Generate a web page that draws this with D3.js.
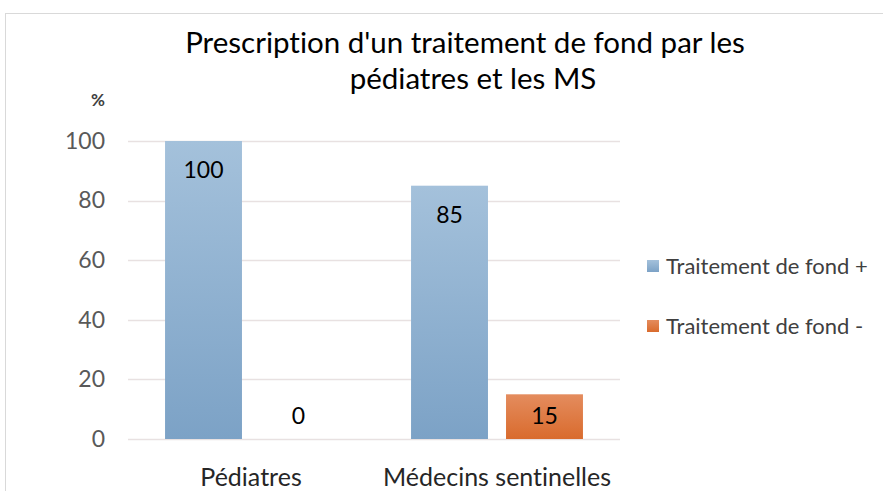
<!DOCTYPE html>
<html>
<head>
<meta charset="utf-8">
<script src="https://cdn.jsdelivr.net/npm/d3@7"></script>
<style>
  body { margin: 0; background: #fff; }
  text { font-family: Lato, "Open Sans", sans-serif; font-variant-ligatures: none; }
</style>
</head>
<body>
<svg id="chart" width="883" height="491"></svg>
<script>
var categories = ["Pédiatres", "Médecins sentinelles"];
var seriesNames = ["Traitement de fond +", "Traitement de fond -"];
var plusValues = [100, 85];
var minusValues = [0, 15];
var yTicks = [0, 20, 40, 60, 80, 100];
var titleLines = ["Prescription d'un traitement de fond par les", "pédiatres et les MS"];

var colors = {
    "Traitement de fond +": ["#a4c1db", "#7ca2c6"],
    "Traitement de fond -": ["#e48c5e", "#d96b2d"]
};

var data = categories.map(function(c, i) {
    return {category: c, values: [
        {series: seriesNames[0], value: plusValues[i]},
        {series: seriesNames[1], value: minusValues[i]}
    ]};
});

var svg = d3.select('#chart');

// outer chart frame
svg.append('rect')
    .attr('x', 5.5).attr('y', 13.5)
    .attr('width', 890).attr('height', 490)
    .attr('fill', 'none')
    .attr('stroke', '#d9d9d9');

var defs = svg.append('defs');
seriesNames.forEach(function(s, i) {
    var g = defs.append('linearGradient')
        .attr('id', 'grad' + i)
        .attr('x1', 0).attr('y1', 0).attr('x2', 0).attr('y2', 1);
    g.append('stop').attr('offset', '0%').attr('stop-color', colors[s][0]);
    g.append('stop').attr('offset', '100%').attr('stop-color', colors[s][1]);
});

var plot = {l: 128, r: 620, t: 141, b: 439};

var x0 = d3.scaleBand()
    .domain(categories)
    .range([plot.l, plot.r])
    .padding(0);

var x1 = d3.scaleBand()
    .domain(seriesNames)
    .range([0, x0.bandwidth()])
    .paddingInner(0.19)
    .paddingOuter(0.39);

var y = d3.scaleLinear()
    .domain([0, 100])
    .range([plot.b, plot.t]);

// gridlines
svg.append('g')
    .selectAll('line')
    .data(yTicks)
    .enter()
    .append('line')
    .attr('x1', plot.l).attr('x2', plot.r)
    .attr('y1', function(d) { return Math.round(y(d)) + 0.5; })
    .attr('y2', function(d) { return Math.round(y(d)) + 0.5; })
    .attr('stroke', '#e8e1e1')
    .attr('stroke-width', 1.5);

// y axis
var yAxisG = svg.append('g')
    .attr('transform', 'translate(' + [plot.l, 0] + ')')
    .call(d3.axisLeft(y).tickValues(yTicks).tickSize(0).tickPadding(23));
yAxisG.select('.domain').remove();
yAxisG.selectAll('text')
    .style('font-size', '23px')
    .attr('fill', '#595959');

// x axis
var xAxisG = svg.append('g')
    .attr('transform', 'translate(' + [0, plot.b] + ')')
    .call(d3.axisBottom(x0).tickSize(0).tickPadding(29));
xAxisG.select('.domain').remove();
xAxisG.selectAll('text')
    .style('font-size', '25px')
    .attr('fill', '#262626');

// bars
var groups = svg.selectAll('.group')
    .data(data)
    .enter()
    .append('g')
    .attr('class', 'group')
    .attr('transform', function(d) { return 'translate(' + [x0(d.category), 0] + ')'; });

groups.selectAll('rect')
    .data(function(d) { return d.values; })
    .enter()
    .append('rect')
    .attr('x', function(d) { return x1(d.series); })
    .attr('width', x1.bandwidth())
    .attr('y', function(d) { return y(d.value); })
    .attr('height', function(d) { return y(0) - y(d.value); })
    .attr('fill', function(d) { return 'url(#grad' + seriesNames.indexOf(d.series) + ')'; });

groups.selectAll('.label')
    .data(function(d) { return d.values; })
    .enter()
    .append('text')
    .attr('class', 'label')
    .attr('x', function(d) { return x1(d.series) + x1.bandwidth() / 2; })
    .attr('y', function(d) {
        return d.value > 20 ? y(d.value) + 37 : y(0) - 15;
    })
    .attr('text-anchor', 'middle')
    .style('font-size', '23px')
    .attr('fill', '#000')
    .text(function(d) { return d.value; });

// title
svg.append('text')
    .attr('x', 467)
    .attr('text-anchor', 'middle')
    .style('font-size', '29.5px')
    .attr('fill', '#000')
    .selectAll('tspan')
    .data(titleLines)
    .enter()
    .append('tspan')
    .attr('x', function(d, i) { return i === 0 ? 465 : 473; })
    .attr('y', function(d, i) { return 53 + i * 36; })
    .text(function(d) { return d; });

// unit label
svg.append('text')
    .attr('x', 98).attr('y', 106)
    .attr('text-anchor', 'middle')
    .style('font-size', '17px')
    .style('font-weight', 'bold')
    .attr('fill', '#404040')
    .text('%');

// legend
var legend = svg.selectAll('.legend')
    .data(seriesNames)
    .enter()
    .append('g')
    .attr('class', 'legend')
    .attr('transform', function(d, i) { return 'translate(' + [647, 260 + i * 60] + ')'; });

legend.append('rect')
    .attr('width', 12).attr('height', 12)
    .attr('fill', function(d, i) { return 'url(#grad' + i + ')'; });

legend.append('text')
    .attr('x', 19).attr('y', 14)
    .style('font-size', '22px')
    .attr('fill', '#404040')
    .text(function(d) { return d; });
</script>
</body>
</html>
